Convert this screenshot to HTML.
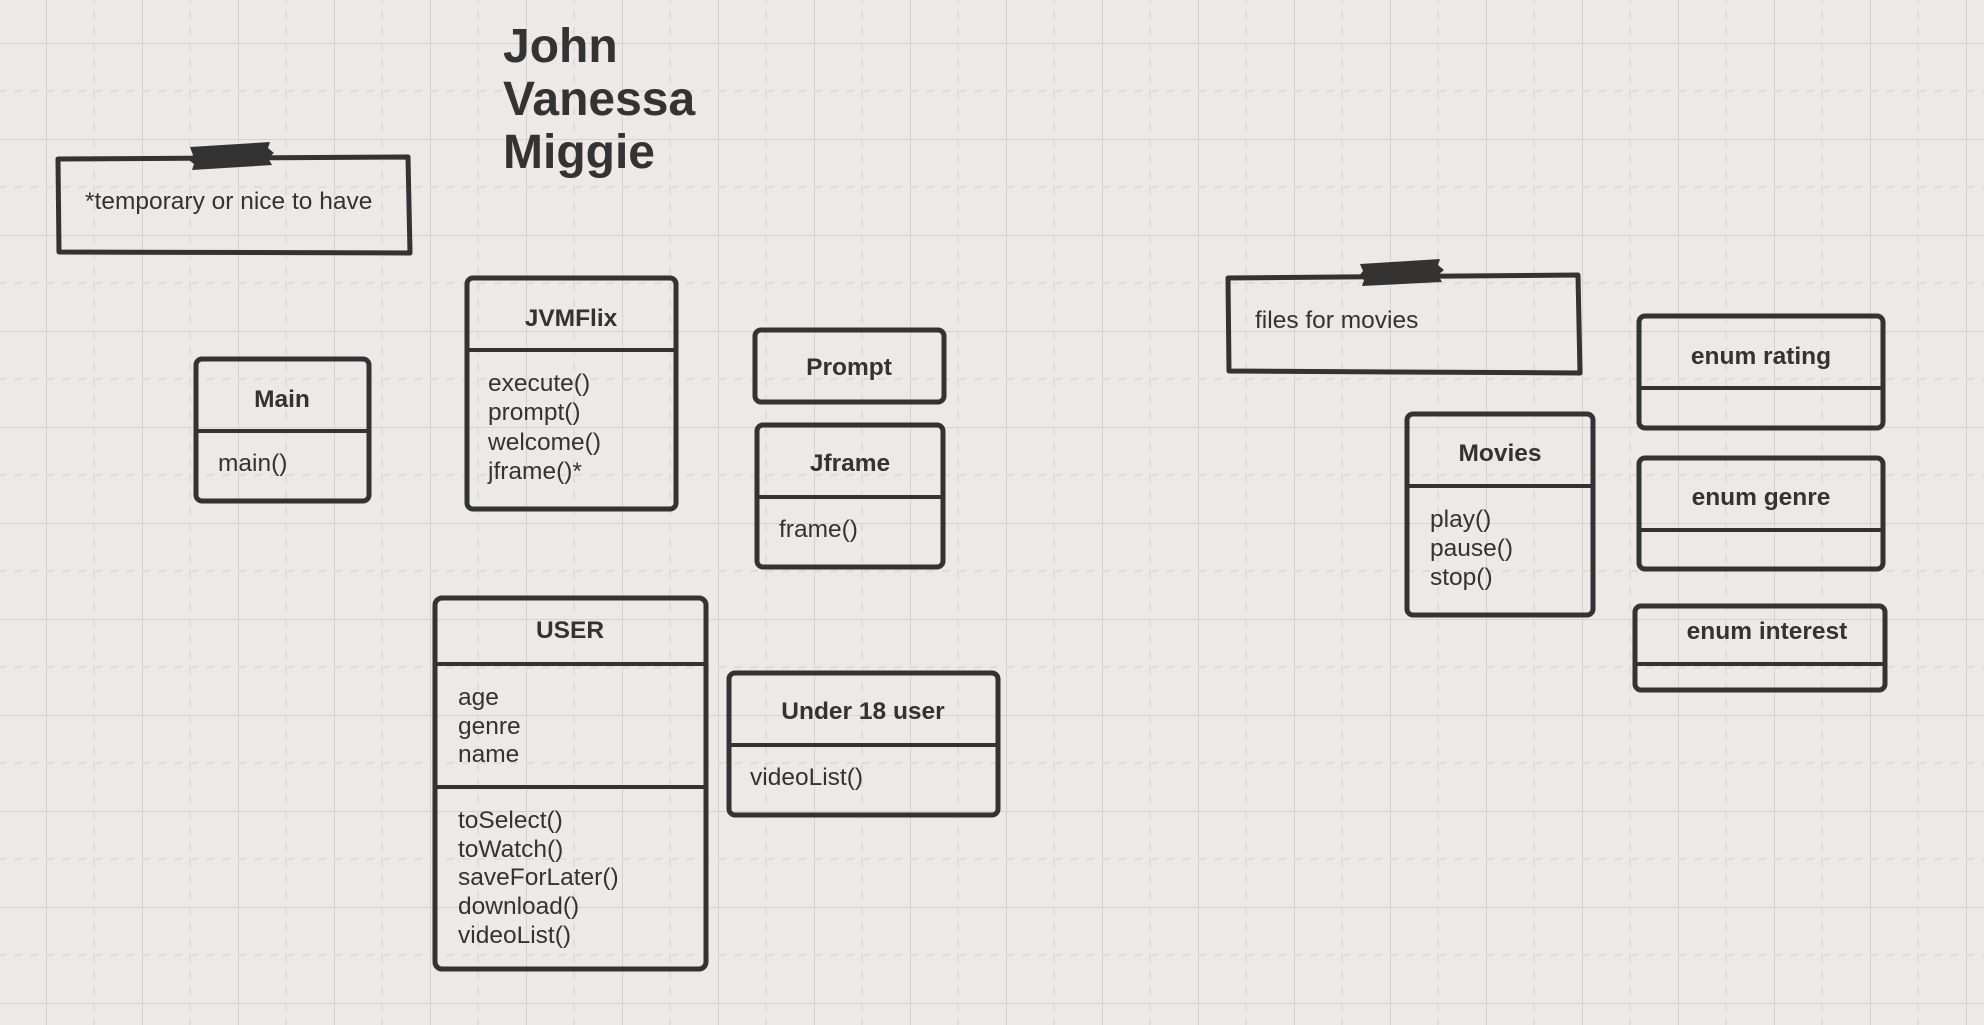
<!DOCTYPE html>
<html><head><meta charset="utf-8"><style>
html,body{margin:0;padding:0;background:#ece9e6;}
svg{display:block;}
text{font-family:"Liberation Sans",sans-serif;fill:#333;}
.b{font-weight:bold;font-size:24.5px;}
.r{font-size:24.5px;}
.box{fill:none;stroke:#333;stroke-width:5;stroke-linejoin:round;}
.ln{stroke:#333;stroke-width:4;}
</style></head><body>
<svg width="1984" height="1025" viewBox="0 0 1984 1025" xmlns="http://www.w3.org/2000/svg">
<defs>
<pattern id="g" x="46" y="43" width="96" height="96" patternUnits="userSpaceOnUse">
<line x1="0" y1="0" x2="0" y2="96" stroke="#d6d2ce" stroke-width="2"/>
<line x1="0" y1="0" x2="96" y2="0" stroke="#d6d2ce" stroke-width="2"/>
<line x1="48" y1="0" x2="48" y2="96" stroke="#dcd8d4" stroke-width="1.5" stroke-dasharray="8 8"/>
<line x1="0" y1="48" x2="96" y2="48" stroke="#dcd8d4" stroke-width="1.5" stroke-dasharray="8 8"/>
</pattern>
</defs>
<rect width="1984" height="1025" fill="#ece9e6"/>
<rect width="1984" height="1025" fill="url(#g)"/>

<text font-weight="bold" x="503" y="62" font-size="48">John</text>
<text font-weight="bold" x="503" y="115" font-size="48">Vanessa</text>
<text font-weight="bold" x="503" y="168" font-size="48">Miggie</text>

<polygon class="box" points="58,159 408,157 410,253 59,252"/>
<polygon points="190,147 270,142 268,148 274,153 268,158 272,165 192,170 194,164 189,160 193,155" fill="#333"/>
<text class="r" x="85" y="209">*temporary or nice to have</text>

<polygon class="box" points="1228,278 1578,275 1580,373 1229,371"/>
<polygon points="1360,264 1440,259 1438,265 1444,270 1438,275 1442,282 1362,286 1364,280 1359,276 1363,271" fill="#333"/>
<text class="r" x="1255" y="328">files for movies</text>

<rect class="box" x="196" y="359" width="173" height="142" rx="6"/>
<line class="ln" x1="196" y1="431" x2="369" y2="431"/>
<text class="b" x="282" y="407" text-anchor="middle">Main</text>
<text class="r" x="218" y="471">main()</text>

<rect class="box" x="467" y="278" width="209" height="231" rx="6"/>
<line class="ln" x1="467" y1="350" x2="676" y2="350"/>
<text class="b" x="571" y="326" text-anchor="middle">JVMFlix</text>
<text class="r" x="488" y="391">execute()</text>
<text class="r" x="488" y="420">prompt()</text>
<text class="r" x="488" y="450">welcome()</text>
<text class="r" x="488" y="479">jframe()*</text>

<rect class="box" x="755" y="330" width="189" height="72" rx="6"/>
<text class="b" x="849" y="375" text-anchor="middle">Prompt</text>

<rect class="box" x="757" y="425" width="186" height="142" rx="6"/>
<line class="ln" x1="757" y1="497" x2="943" y2="497"/>
<text class="b" x="850" y="471" text-anchor="middle">Jframe</text>
<text class="r" x="779" y="537">frame()</text>

<rect class="box" x="435" y="598" width="271" height="371" rx="7"/>
<line class="ln" x1="435" y1="664" x2="706" y2="664"/>
<line class="ln" x1="435" y1="787" x2="706" y2="787"/>
<text class="b" x="570" y="638" text-anchor="middle">USER</text>
<text class="r" x="458" y="705">age</text>
<text class="r" x="458" y="734">genre</text>
<text class="r" x="458" y="762">name</text>
<text class="r" x="458" y="828">toSelect()</text>
<text class="r" x="458" y="857">toWatch()</text>
<text class="r" x="458" y="885">saveForLater()</text>
<text class="r" x="458" y="914">download()</text>
<text class="r" x="458" y="943">videoList()</text>

<rect class="box" x="729" y="673" width="269" height="142" rx="6"/>
<line class="ln" x1="729" y1="745" x2="998" y2="745"/>
<text class="b" x="863" y="719" text-anchor="middle">Under 18 user</text>
<text class="r" x="750" y="785">videoList()</text>

<rect class="box" x="1407" y="414" width="186" height="201" rx="6"/>
<line class="ln" x1="1407" y1="486" x2="1593" y2="486"/>
<text class="b" x="1500" y="461" text-anchor="middle">Movies</text>
<text class="r" x="1430" y="527">play()</text>
<text class="r" x="1430" y="556">pause()</text>
<text class="r" x="1430" y="585">stop()</text>

<rect class="box" x="1639" y="316" width="244" height="112" rx="6"/>
<line class="ln" x1="1639" y1="388" x2="1883" y2="388"/>
<text class="b" x="1761" y="364" text-anchor="middle">enum rating</text>

<rect class="box" x="1639" y="458" width="244" height="111" rx="6"/>
<line class="ln" x1="1639" y1="530" x2="1883" y2="530"/>
<text class="b" x="1761" y="505" text-anchor="middle">enum genre</text>

<rect class="box" x="1635" y="606" width="250" height="84" rx="6"/>
<line class="ln" x1="1635" y1="664" x2="1885" y2="664"/>
<text class="b" x="1767" y="639" text-anchor="middle">enum interest</text>
</svg>
</body></html>
